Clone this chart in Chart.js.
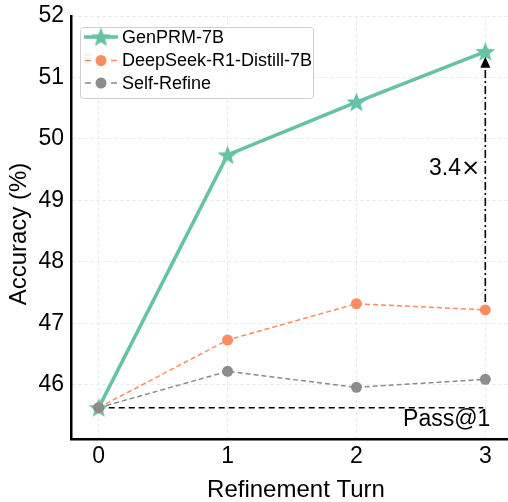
<!DOCTYPE html>
<html>
<head>
<meta charset="utf-8">
<script src="https://cdn.jsdelivr.net/npm/chart.js@4.4.0/dist/chart.umd.min.js"></script>
<style>
  html, body { margin: 0; padding: 0; background: #ffffff; }
  #wrap { width: 508px; height: 502px; }
</style>
</head>
<body>
<div id="wrap"><canvas id="c" width="508" height="502"></canvas></div>
<script>
// ---- data ----
const turns = [0, 1, 2, 3];
const xTicks = [0, 1, 2, 3];
const yTicks = [46, 47, 48, 49, 50, 51, 52];
const seriesNames = ['GenPRM-7B', 'DeepSeek-R1-Distill-7B', 'Self-Refine'];
const genprm = [45.63, 49.74, 50.60, 51.42];
const deepseek = [45.63, 46.73, 47.32, 47.22];
const selfRefine = [45.63, 46.22, 45.96, 46.09];
const passAt1 = 45.63;
const gainNumber = '3.4';
const gainSign = '×';
const passLabel = 'Pass@1';
const xTitle = 'Refinement Turn';
const yTitle = 'Accuracy (%)';

const GREEN = '#66c2a5', ORANGE = '#fc8d62', GRAY = '#8c8c8c';
const FONT = '"Liberation Sans", Arial, Helvetica, sans-serif';

function makeStar(outer, inner, color) {
  const size = Math.ceil(outer * 2 + 2);
  const cv = document.createElement('canvas');
  cv.width = size; cv.height = size;
  const g = cv.getContext('2d');
  const cx = size / 2, cy = size / 2 + 0.8;
  g.beginPath();
  for (let i = 0; i < 10; i++) {
    const r = i % 2 === 0 ? outer : inner;
    const a = -Math.PI / 2 + i * Math.PI / 5;
    const px = cx + r * Math.cos(a), py = cy + r * Math.sin(a);
    if (i === 0) g.moveTo(px, py); else g.lineTo(px, py);
  }
  g.closePath();
  g.fillStyle = color;
  g.fill();
  return cv;
}
const starImg = makeStar(10.5, 4.4, GREEN);

const toXY = arr => arr.map((v, i) => ({ x: turns[i], y: v }));

const annot = {
  id: 'annot',
  beforeDatasetsDraw(chart) {
    const { ctx, scales: { x, y } } = chart;
    ctx.save();
    ctx.strokeStyle = '#000';
    ctx.lineWidth = 1.5;
    ctx.setLineDash([6, 4]);
    ctx.beginPath();
    ctx.moveTo(x.getPixelForValue(turns[0]), y.getPixelForValue(passAt1));
    ctx.lineTo(x.getPixelForValue(turns[3]) - 2, y.getPixelForValue(passAt1));
    ctx.stroke();
    ctx.restore();
  },
  afterDatasetsDraw(chart) {
    const { ctx, scales: { x, y } } = chart;
    ctx.save();
    const ax = x.getPixelForValue(turns[3]);
    const y0 = y.getPixelForValue(deepseek[3]) - 8;
    const tipY = y.getPixelForValue(genprm[3]) + 5;
    const headLen = 11;
    ctx.strokeStyle = '#000';
    ctx.lineWidth = 1.6;
    ctx.setLineDash([8, 3, 2, 3]);
    ctx.beginPath();
    ctx.moveTo(ax, y0);
    ctx.lineTo(ax, tipY + headLen);
    ctx.stroke();
    ctx.setLineDash([]);
    ctx.fillStyle = '#000';
    ctx.beginPath();
    ctx.moveTo(ax, tipY);
    ctx.lineTo(ax - 5, tipY + headLen);
    ctx.lineTo(ax + 5, tipY + headLen);
    ctx.closePath();
    ctx.fill();

    // "3.4×" label
    ctx.fillStyle = '#000';
    ctx.textAlign = 'right';
    ctx.textBaseline = 'middle';
    const gy = y.getPixelForValue(49.52);
    ctx.font = '23px "DejaVu Sans", sans-serif';
    const signW = ctx.measureText(gainSign).width;
    ctx.fillText(gainSign, ax - 5, gy + 1);
    ctx.font = '23px ' + FONT;
    ctx.fillText(gainNumber, ax - 5 - signW, gy);
    // Pass@1 label, just under the baseline
    ctx.fillText(passLabel, ax + 5, y.getPixelForValue(passAt1) + 12.5);

    // axis titles
    ctx.font = '24px ' + FONT;
    ctx.textAlign = 'center';
    ctx.textBaseline = 'alphabetic';
    ctx.fillText(xTitle, 296, 497);
    ctx.save();
    ctx.translate(26, 234);
    ctx.rotate(-Math.PI / 2);
    ctx.fillText(yTitle, 0, 0);
    ctx.restore();

    // legend
    const bx = 80, by = 27, bw = 233, bh = 71;
    ctx.fillStyle = 'rgba(255,255,255,0.85)';
    ctx.strokeStyle = '#d0d0d0';
    ctx.lineWidth = 1;
    ctx.beginPath();
    ctx.roundRect(bx + 0.5, by + 0.5, bw, bh, 3);
    ctx.fill();
    ctx.stroke();
    const rows = [37, 60.5, 83];
    const colors = [GREEN, ORANGE, GRAY];
    ctx.font = '18px ' + FONT;
    ctx.textAlign = 'left';
    ctx.textBaseline = 'middle';
    rows.forEach((ry, i) => {
      ctx.strokeStyle = colors[i];
      ctx.beginPath();
      if (i === 0) {
        ctx.lineWidth = 3.5;
        ctx.moveTo(84, ry); ctx.lineTo(118, ry);
      } else {
        ctx.lineWidth = 1.5;
        ctx.moveTo(85, ry); ctx.lineTo(91, ry);
        ctx.moveTo(111, ry); ctx.lineTo(117, ry);
      }
      ctx.stroke();
      if (i === 0) {
        ctx.drawImage(starImg, 101 - starImg.width / 2, ry - starImg.height / 2);
      } else {
        ctx.fillStyle = colors[i];
        ctx.beginPath();
        ctx.arc(101, ry, 5.5, 0, Math.PI * 2);
        ctx.fill();
      }
      ctx.fillStyle = '#000';
      ctx.fillText(seriesNames[i], 122, ry + 1);
    });
    ctx.restore();
  }
};

new Chart(document.getElementById('c'), {
  type: 'line',
  data: {
    datasets: [
      {
        label: seriesNames[0], data: toXY(genprm), order: 3,
        borderColor: GREEN, backgroundColor: GREEN, borderWidth: 3.5,
        pointStyle: starImg, pointRadius: 10, tension: 0, clip: false
      },
      {
        label: seriesNames[1], data: toXY(deepseek), order: 2,
        borderColor: ORANGE, backgroundColor: ORANGE, borderWidth: 1.5,
        borderDash: [5, 3], pointStyle: 'circle', pointRadius: 5.5,
        pointBorderWidth: 0, tension: 0, clip: false
      },
      {
        label: seriesNames[2], data: toXY(selfRefine), order: 1,
        borderColor: GRAY, backgroundColor: GRAY, borderWidth: 1.5,
        borderDash: [5, 3], pointStyle: 'circle', pointRadius: 5.5,
        pointBorderWidth: 0, tension: 0, clip: false
      }
    ]
  },
  options: {
    responsive: false,
    animation: false,
    events: [],
    layout: { autoPadding: false, padding: { top: 16, right: 0, left: 0, bottom: 0 } },
    plugins: { legend: { display: false }, tooltip: { enabled: false } },
    scales: {
      x: {
        type: 'linear', min: -0.215, max: 3.176, bounds: 'data',
        afterFit: s => { s.height = 63; s.paddingLeft = 0; s.paddingRight = 0; },
        afterBuildTicks: s => { s.ticks = xTicks.map(v => ({ value: v })); },
        grid: { color: '#e2e2e2', lineWidth: 0.8, drawTicks: false },
        border: { display: true, color: '#000', width: 2.5, dash: [3, 3] },
        ticks: { color: '#000', padding: 4, font: { family: FONT, size: 23 } }
      },
      y: {
        type: 'linear', min: 45.12, max: 52, bounds: 'data',
        afterFit: s => { s.width = 71; s.paddingTop = 0; s.paddingBottom = 0; },
        afterBuildTicks: s => { s.ticks = yTicks.map(v => ({ value: v })); },
        grid: { color: '#e2e2e2', lineWidth: 0.8, drawTicks: false },
        border: { display: true, color: '#000', width: 2.5, dash: [3, 3] },
        ticks: { color: '#000', padding: 7, font: { family: FONT, size: 23 } }
      }
    }
  },
  plugins: [annot]
});
</script>
</body>
</html>
